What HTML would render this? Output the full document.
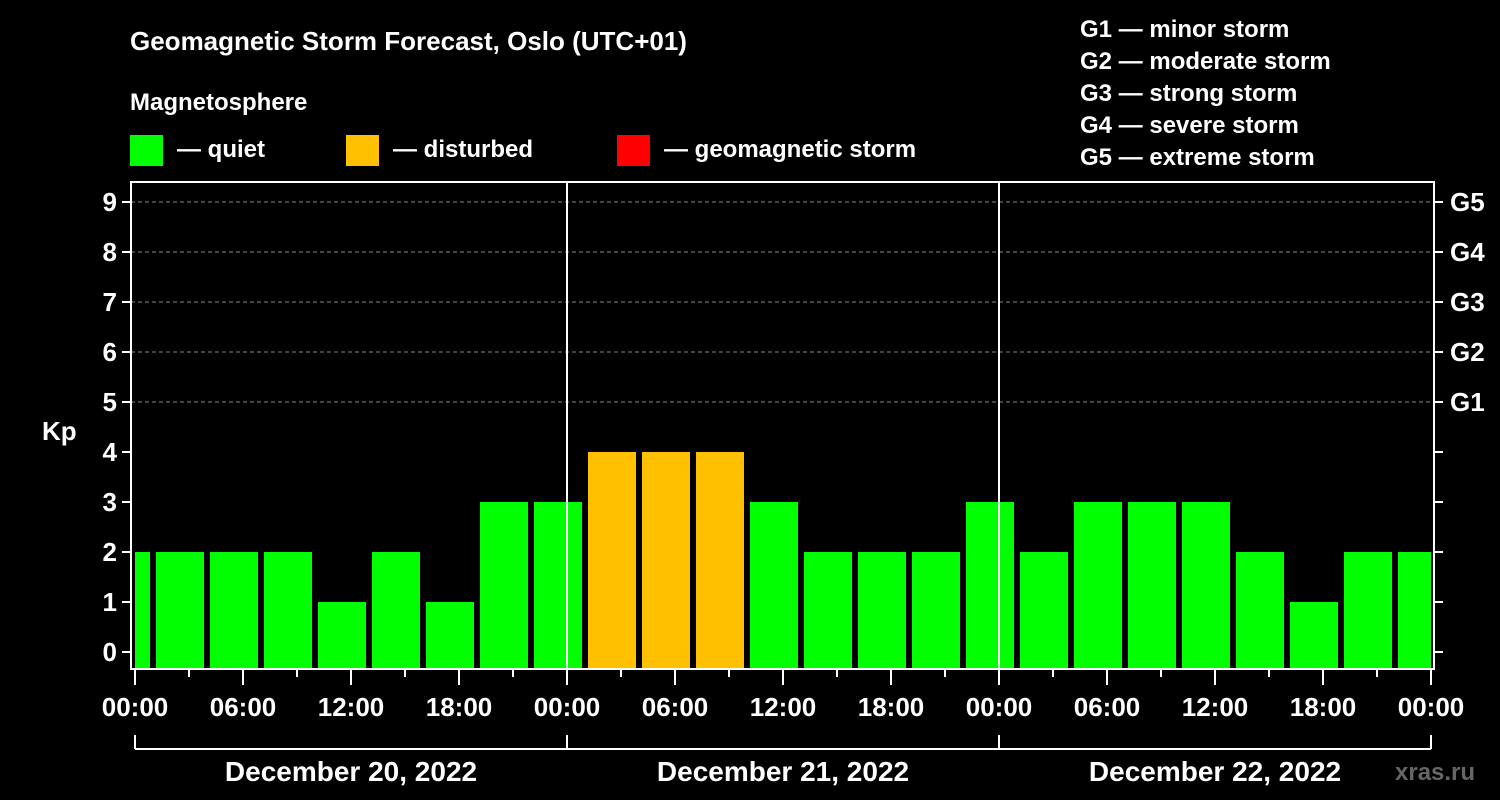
<!DOCTYPE html>
<html><head><meta charset="utf-8"><style>
body{margin:0;background:#000;}
svg{display:block;font-family:"Liberation Sans",Arial,sans-serif;font-weight:bold;}
</style></head><body>
<svg id="chart" width="1500" height="800" viewBox="0 0 1500 800">
<rect width="1500" height="800" fill="#000"/>
<text x="130" y="50" fill="#fff" font-size="26">Geomagnetic Storm Forecast, Oslo (UTC+01)</text>
<text x="130" y="110" fill="#fff" font-size="24">Magnetosphere</text>
<g><rect x="130" y="135" width="33" height="31" fill="#00ff00"/><text x="177" y="157" fill="#fff" font-size="24">— quiet</text></g>
<g><rect x="346" y="135" width="33" height="31" fill="#ffc000"/><text x="393" y="157" fill="#fff" font-size="24">— disturbed</text></g>
<g><rect x="617" y="135" width="33" height="31" fill="#ff0000"/><text x="664" y="157" fill="#fff" font-size="24">— geomagnetic storm</text></g>
<g fill="#fff" font-size="24">
<text x="1080" y="37">G1 — minor storm</text>
<text x="1080" y="69">G2 — moderate storm</text>
<text x="1080" y="101">G3 — strong storm</text>
<text x="1080" y="133">G4 — severe storm</text>
<text x="1080" y="165">G5 — extreme storm</text>
</g>
<text x="42" y="440" fill="#fff" font-size="26">Kp</text>
<text x="1395" y="780" fill="#666" font-size="24">xras.ru</text>
<g id="plot"></g>
</svg>
<script>
const kpValues=[2,2,2,2,1,2,1,3,3, 4,4,4,3,2,2,2,3, 2,3,3,3,2,1,2,2];
const yTicks=[0,1,2,3,4,5,6,7,8,9];
const gLabels=["G1","G2","G3","G4","G5"];
const xLabels=["00:00","06:00","12:00","18:00","00:00","06:00","12:00","18:00","00:00","06:00","12:00","18:00","00:00"];
const dayLabels=["December 20, 2022","December 21, 2022","December 22, 2022"];

const NS="http://www.w3.org/2000/svg";
const plot=document.getElementById('plot');
const L=131,R=1434,T=182,B=669,X0=135,PXH=18;
const y=v=>652-v*50;
const x=h=>X0+h*PXH;
function mk(tag,a,p){const e=document.createElementNS(NS,tag);for(const k in a)e.setAttribute(k,a[k]);(p||plot).appendChild(e);return e;}
// grid
yTicks.forEach(v=>{if(v>=5){const g=mk('line',{x1:L,x2:R,y1:y(v),y2:y(v),stroke:'#888','stroke-dasharray':'4,3','stroke-width':1});

}});
// bars
kpValues.forEach((v,i)=>{
  let s=x(-2+3*i)+3,e=x(1+3*i)-3;
  s=Math.max(s,x(0));e=Math.min(e,x(72));
  const c=v>=5?'#ff0000':(v>=4?'#ffc000':'#00ff00');
  const r=mk('rect',{x:s,y:y(v),width:e-s,height:B-y(v),fill:c});
  
  
});
// day separators
[24,48].forEach(h=>{const l=mk('line',{x1:x(h),x2:x(h),y1:T,y2:B,stroke:'#fff','stroke-width':2});

});
// frame
const f=mk('rect',{x:L,y:T,width:R-L,height:B-T,fill:'none',stroke:'#fff','stroke-width':2});


// y ticks
yTicks.forEach(v=>{
  mk('line',{x1:L-9,x2:L,y1:y(v),y2:y(v),stroke:'#fff','stroke-width':2});
  mk('line',{x1:R,x2:R+9,y1:y(v),y2:y(v),stroke:'#fff','stroke-width':2});
  const t=mk('text',{x:L-14,y:y(v)+9,fill:'#fff','font-size':26,'text-anchor':'end'});t.textContent=v;
  
  
  if(v>=5){const g=mk('text',{x:R+16,y:y(v)+9,fill:'#fff','font-size':26});g.textContent=gLabels[v-5];
  
  }
});
// x ticks
for(let h=0;h<=72;h+=3){const major=h%6===0;mk('line',{x1:x(h),x2:x(h),y1:B,y2:B+(major?16:8),stroke:'#fff','stroke-width':2});}
xLabels.forEach((lb,i)=>{const t=mk('text',{x:x(i*6),y:716,fill:'#fff','font-size':26,'text-anchor':'middle'});t.textContent=lb;

});
// day bracket
mk('line',{x1:x(0),x2:x(72),y1:749,y2:749,stroke:'#fff','stroke-width':2});
[0,24,48,72].forEach(h=>mk('line',{x1:x(h),x2:x(h),y1:735,y2:749,stroke:'#fff','stroke-width':2}));
dayLabels.forEach((d,i)=>{const t=mk('text',{x:x(i*24+12),y:781,fill:'#fff','font-size':28,'text-anchor':'middle'});t.textContent=d;

});
</script>
</body></html>
